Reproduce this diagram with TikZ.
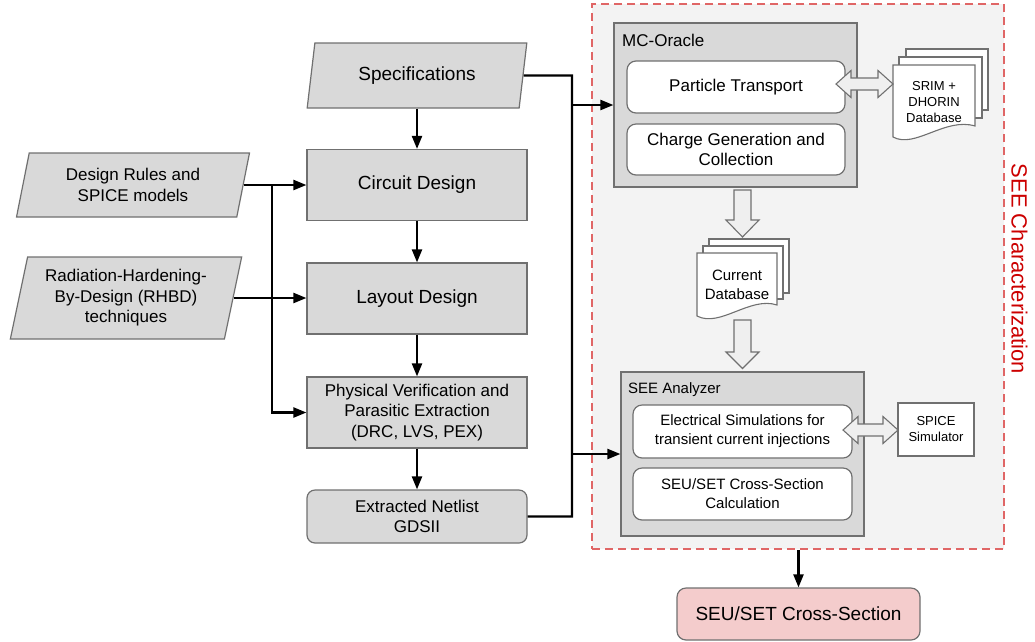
\documentclass[tikz,border=0pt]{standalone}
\usepackage{fontspec}
\setmainfont{Liberation Sans}
\usetikzlibrary{shapes.geometric,arrows.meta,calc}
\definecolor{boxgray}{HTML}{D9D9D9}
\definecolor{edgegray}{HTML}{707070}
\definecolor{panel}{HTML}{F3F3F3}
\definecolor{dashred}{HTML}{E06666}
\definecolor{titlered}{HTML}{CC0000}
\definecolor{pinkfill}{HTML}{F4CCCC}
\definecolor{arrowfill}{HTML}{EFEFEF}
\begin{document}
\begin{tikzpicture}[x=1pt,y=-1pt,
 fsbig/.style={font=\fontsize{19}{22}\selectfont},
 fsmid/.style={font=\fontsize{17}{20.5}\selectfont},
 fssmall/.style={font=\fontsize{15}{18.8}\selectfont},
 fstiny/.style={font=\fontsize{13}{16}\selectfont},
 proc/.style={draw=edgegray, line width=1.2pt, fill=boxgray, align=center, inner sep=0pt},
 inp/.style={trapezium, trapezium stretches=true, trapezium left angle=76, trapezium right angle=104, draw=edgegray, line width=1.2pt, fill=boxgray, align=center, inner sep=0pt},
 sub/.style={draw=edgegray, line width=1.2pt, fill=white, rounded corners=9pt, align=center, inner sep=0pt},
 arr/.style={draw=black, line width=2.2pt, -{Triangle[length=13pt,width=10pt]}},
 wire/.style={draw=black, line width=2.2pt},
 blk/.style={draw=edgegray, line width=1.1pt, fill=arrowfill, line join=miter},
 page/.style={draw=edgegray, line width=1.1pt, fill=white},
]
\useasboundingbox (0,0) rectangle (1035,641);

% SEE characterization panel
\node[draw=dashred, fill=panel, line width=1.8pt, dash pattern=on 8pt off 5pt,
      minimum width=412pt, minimum height=545pt, inner sep=0pt] (seebox) at (798,276.5) {};
\node[font=\fontsize{22}{26}\selectfont, text=titlered, rotate=-90, inner sep=0pt] (seetitle) at (1019.5,269) {SEE Characterization};

% left flow
\node[inp, fsbig, minimum width=220pt, minimum height=65pt] (spec) at (417,75.5) {Specifications};
\node[proc, fsbig, minimum width=220pt, minimum height=71pt] (cd) at (417,185) {Circuit Design};
\node[proc, fsbig, minimum width=220pt, minimum height=71pt] (ld) at (417,298.5) {Layout Design};
\node[proc, fsmid, minimum width=220pt, minimum height=71pt] (pv) at (417,412.5) {Physical Verification and\\Parasitic Extraction\\(DRC, LVS, PEX)};
\node[proc, fsmid, rounded corners=8pt, minimum width=220pt, minimum height=53pt] (net) at (417,516.5) {Extracted Netlist\\GDSII};

\node[inp, fsmid, minimum width=233pt, minimum height=64pt] (dr) at (133,185) {Design Rules and\\SPICE models};
\node[inp, fsmid, minimum width=232pt, minimum height=82pt] (rad) at (126,298) {Radiation-Hardening-\\By-Design (RHBD)\\techniques};

% MC-Oracle
\node[proc, minimum width=243pt, minimum height=164pt] (mco) at (735.5,105) {};
\node[fsmid, anchor=base west, inner sep=0pt] (mcolab) at (622,46) {MC-Oracle};
\node[sub, fsmid, minimum width=218pt, minimum height=52pt] (pt) at (736,87) {Particle Transport};
\node[sub, fsmid, minimum width=218pt, minimum height=51pt] (cg) at (736,149.5) {Charge Generation and\\Collection};

% SRIM database (stacked documents)
\draw[page] (906,49) rectangle (988,110);
\draw[page] (899,57) rectangle (982,118);
\draw[page] (893,65) -- (975,65) -- (975,126) .. controls (945,117) and (915,149) .. (893,137) -- cycle;
\node[fstiny, align=center, inner sep=0pt] (srim) at (934,102) {SRIM +\\DHORIN\\Database};

% double arrow particle transport <-> SRIM
\draw[blk] (836,84) -- (851,70.5) -- (851,78) -- (878,78) -- (878,70.5) -- (893,84) -- (878,97.5) -- (878,90) -- (851,90) -- (851,97.5) -- cycle;

% down arrow MC-Oracle -> current database
\draw[blk] (734,190) -- (751,190) -- (751,220) -- (759,220) -- (742.5,237) -- (726,220) -- (734,220) -- cycle;

% current database
\draw[page] (709,239) rectangle (789,293);
\draw[page] (703,246) rectangle (783,299);
\draw[page] (697,253) -- (777,253) -- (777,305) .. controls (750,296) and (720,328) .. (697,316) -- cycle;
\node[fssmall, align=center, inner sep=0pt] (cur) at (737,285) {Current\\Database};

% down arrow current database -> SEE analyzer
\draw[blk] (734,320) -- (751,320) -- (751,352) -- (759,352) -- (742.5,368.5) -- (726,352) -- (734,352) -- cycle;

% SEE Analyzer
\node[proc, minimum width=243pt, minimum height=164pt] (sea) at (742.5,454) {};
\node[fssmall, anchor=base west, inner sep=0pt] (sealab) at (628,393.5) {SEE Analyzer};
\node[sub, fssmall, minimum width=219pt, minimum height=53pt] (es) at (742.5,431.5) {Electrical Simulations for\\transient current injections};
\node[sub, fssmall, minimum width=219pt, minimum height=52pt] (xc) at (742.5,494) {SEU/SET Cross-Section\\Calculation};
\node[draw=edgegray, line width=1.2pt, fill=white, fstiny, align=center, inner sep=0pt, minimum width=76pt, minimum height=53pt] (spice) at (936,429.5) {SPICE\\Simulator};

% double arrow electrical sims <-> SPICE
\draw[blk] (843,430) -- (858,416.5) -- (858,424) -- (883,424) -- (883,416.5) -- (898,430) -- (883,443.5) -- (883,436) -- (858,436) -- (858,443.5) -- cycle;

% result
\node[draw=edgegray, line width=1.2pt, fill=pinkfill, rounded corners=9pt, fsbig, inner sep=0pt, minimum width=243pt, minimum height=52pt] (res) at (798.5,614) {SEU/SET Cross-Section};

% connectors
\draw[arr] (spec.south -| cd.north) -- (cd.north);
\draw[arr] (cd) -- (ld);
\draw[arr] (ld) -- (pv);
\draw[arr] (pv) -- (net);
\draw[arr] (dr.east) -- (dr.east -| cd.west);
\draw[arr] (rad.east) -- (rad.east -| ld.west);
\coordinate (kl) at (272,185);
\draw[arr] (kl) |- (pv.west);
\coordinate (j1) at (572,75.5);
\coordinate (j2) at (572,516.5);
\draw[wire] (spec.east) -- (j1) -- (j2) -- (net.east);
\draw[arr] (j1) |- (mco.west);
\draw[arr] (j2) |- (sea.west);
\draw[arr] (seebox.south -| res.north) -- (res.north);
\end{tikzpicture}
\end{document}
